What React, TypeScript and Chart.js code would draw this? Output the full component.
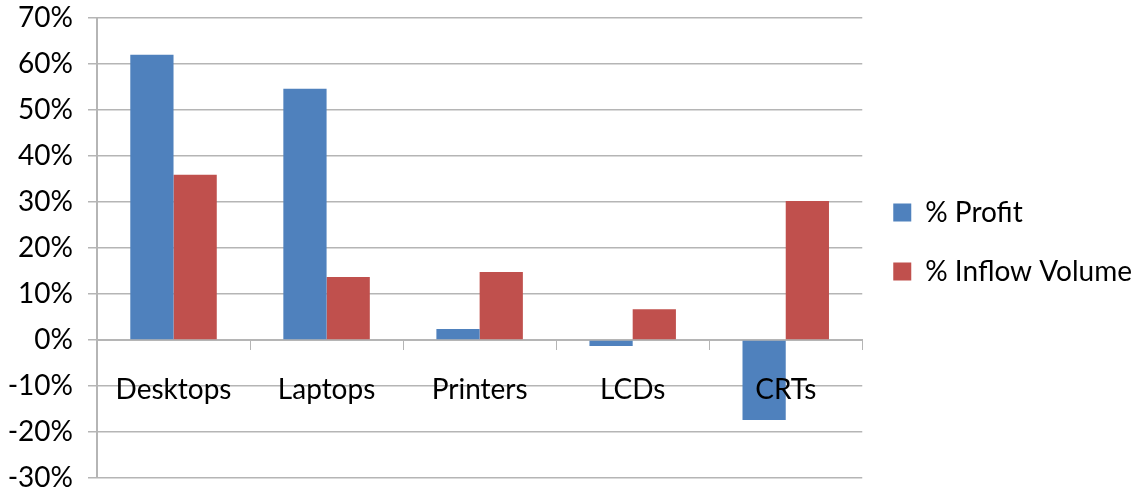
import React, { useEffect, useRef } from "react";
import { Chart, registerables } from "chart.js";

Chart.register(...registerables);

const categories = ["Desktops", "Laptops", "Printers", "LCDs", "CRTs"];
const profitValues = [62.0, 54.6, 2.4, -1.3, -17.4];
const inflowValues = [35.9, 13.7, 14.8, 6.7, 30.2];
const seriesLabels = ["% Profit", "% Inflow Volume"];
const seriesColors = ["#4F81BD", "#C0504D"];

const FONT = "Lato, 'Liberation Sans', sans-serif";
const GRID = "#b5b5b5";

export default function App() {
  const ref = useRef<HTMLCanvasElement | null>(null);
  useEffect(() => {
    if (!ref.current) return;
    const chart = new Chart(ref.current, {
      type: "bar",
      data: {
        labels: categories,
        datasets: [
          { label: seriesLabels[0], data: profitValues, backgroundColor: seriesColors[0], borderWidth: 0 },
          { label: seriesLabels[1], data: inflowValues, backgroundColor: seriesColors[1], borderWidth: 0 },
        ],
      },
      options: {
        animation: false,
        responsive: false,
        maintainAspectRatio: false,
        layout: { padding: { top: 2, bottom: 16, left: 0, right: 5 } },
        datasets: { bar: { categoryPercentage: 0.565, barPercentage: 1.0 } },
        plugins: {
          tooltip: { enabled: false },
          legend: {
            position: "right",
            align: "center",
            labels: {
              boxWidth: 18,
              boxHeight: 18,
              padding: 31,
              color: "#000",
              font: { family: FONT, size: 28 },
            },
          },
        },
        scales: {
          x: {
            position: { y: 0 },
            grid: { drawOnChartArea: false, drawTicks: true, tickLength: 9, color: GRID, offset: true },
            border: { color: GRID, width: 2 },
            ticks: { color: "#000", font: { family: FONT, size: 28 }, padding: 24, z: 1 },
          },
          y: {
            min: -30,
            max: 70,
            afterFit: (scale: any) => {
              scale.width = 97;
              scale.paddingTop = 18;
              scale.paddingBottom = 20;
            },
            grid: { color: GRID, lineWidth: 1.5, tickLength: 9 },
            border: { color: GRID, width: 2 },
            ticks: {
              stepSize: 10,
              color: "#000",
              font: { family: FONT, size: 28 },
              padding: 15,
              callback: (v: any) => v + "%",
            },
          },
        },
      },
    });
    return () => chart.destroy();
  }, []);
  return (
    <div style={{ position: "fixed", left: 0, top: 0, width: 1147, height: 498, background: "#fff" }}>
      <canvas ref={ref} width={1147} height={498} style={{ width: 1147, height: 498 }} />
    </div>
  );
}
